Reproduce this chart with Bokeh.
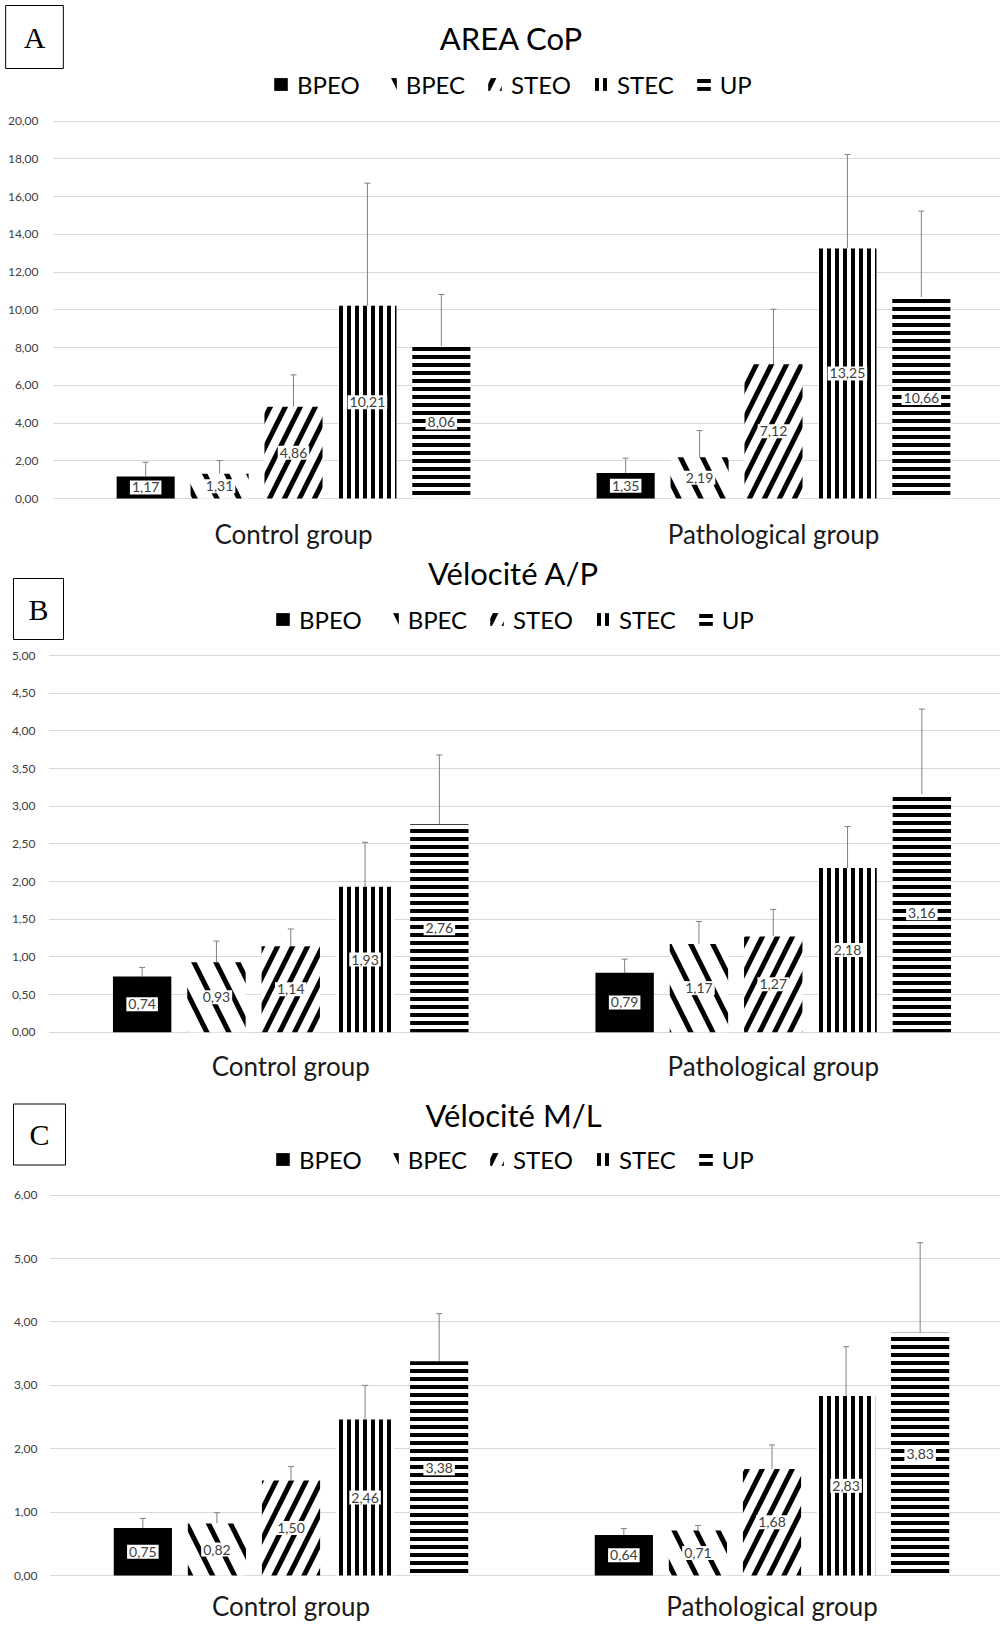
from bokeh.plotting import figure
from bokeh.models import (ColumnDataSource, Range1d, FixedTicker, Whisker, TeeHead,
                          Label, Legend, LegendItem, BoxAnnotation)
from bokeh.layouts import column
from bokeh.embed import file_html
from bokeh.resources import INLINE
from bokeh.core.properties import value

# ---------------- data ----------------
groups = ["Control group", "Pathological group"]
conditions = ["BPEO", "BPEC", "STEO", "STEC", "UP"]

area_control = [1.17, 1.31, 4.86, 10.21, 8.06]
area_patho = [1.35, 2.19, 7.12, 13.25, 10.66]
area_control_sd = [0.75, 0.70, 1.69, 6.50, 2.75]
area_patho_sd = [0.79, 1.41, 2.91, 4.98, 4.57]
area_ticks = [0.0, 2.0, 4.0, 6.0, 8.0, 10.0, 12.0, 14.0, 16.0, 18.0, 20.0]

vap_control = [0.74, 0.93, 1.14, 1.93, 2.76]
vap_patho = [0.79, 1.17, 1.27, 2.18, 3.16]
vap_control_sd = [0.12, 0.28, 0.23, 0.59, 0.92]
vap_patho_sd = [0.18, 0.30, 0.36, 0.55, 1.13]
vap_ticks = [0.0, 0.5, 1.0, 1.5, 2.0, 2.5, 3.0, 3.5, 4.0, 4.5, 5.0]

vml_control = [0.75, 0.82, 1.50, 2.46, 3.38]
vml_patho = [0.64, 0.71, 1.68, 2.83, 3.83]
vml_control_sd = [0.15, 0.17, 0.22, 0.54, 0.75]
vml_patho_sd = [0.10, 0.08, 0.38, 0.78, 1.42]
vml_ticks = [0.0, 1.0, 2.0, 3.0, 4.0, 5.0, 6.0]

# ---------------- styles ----------------
FONT = "Lato"
STYLES = {
    "BPEO": dict(fill_color="black"),
    "BPEC": dict(fill_color="white", hatch_pattern="left_diagonal_line",
                 hatch_color="black", hatch_scale=44, hatch_weight=5),
    "STEO": dict(fill_color="white", hatch_pattern="right_diagonal_line",
                 hatch_color="black", hatch_scale=30, hatch_weight=5),
    "STEC": dict(fill_color="white", hatch_pattern="vertical_line",
                 hatch_color="black", hatch_scale=8, hatch_weight=4),
    "UP": dict(fill_color="white", hatch_pattern="horizontal_line",
               hatch_color="black", hatch_scale=8, hatch_weight=4),
}
OFFSET = 0.154
BAR_W = 0.121
FIG_W = 1000


def fmt(v):
    return f"{v:.2f}".replace(".", ",")


def panel(title, letter, ctrl, patho, ctrl_sd, patho_sd, ticks, g):
    fig_top, fig_h = g["top"], g["height"]
    gl, zero, ppu, upx = g["grid_left"], g["zero"], g["ppu"], g["upx"]
    frame_bottom = fig_top + fig_h - g["bottom_border"]

    def X(px):  # page pixel -> data x
        return -0.5 + (px - gl) / upx

    def Y(py):  # page pixel -> data y
        return (zero - py) / ppu

    p = figure(width=FIG_W, height=fig_h,
               x_range=Range1d(X(0), X(FIG_W)),
               y_range=Range1d(Y(frame_bottom), Y(fig_top)),
               output_backend="svg", toolbar_location=None,
               min_border_left=0, min_border_right=0,
               min_border_top=0, min_border_bottom=g["bottom_border"])
    p.outline_line_color = None
    p.background_fill_color = "white"
    p.xgrid.grid_line_color = None
    p.ygrid.grid_line_color = "#d9d9d9"
    p.ygrid.grid_line_width = 1

    # y axis sits at the left end of the gridlines
    p.yaxis.fixed_location = X(gl)
    p.yaxis.ticker = FixedTicker(ticks=ticks)
    p.yaxis.major_label_overrides = {t: fmt(t) for t in ticks}
    p.yaxis.axis_line_color = None
    p.yaxis.major_tick_line_color = None
    p.yaxis.minor_tick_line_color = None
    p.yaxis.major_tick_out = 0
    p.yaxis.major_tick_in = 0
    p.yaxis.minor_tick_out = 0
    p.yaxis.major_label_standoff = g["ylab_standoff"]
    p.yaxis.major_label_text_font = FONT
    p.yaxis.major_label_text_font_size = "12px"
    p.yaxis.major_label_text_color = "#404040"
    # keep the gridlines from running under the tick labels
    p.add_layout(BoxAnnotation(left=X(0), right=X(gl - 0.5), fill_color="white",
                               fill_alpha=1, line_color=None, level="underlay"))

    p.xaxis.ticker = FixedTicker(ticks=[0, 1])
    p.xaxis.major_label_overrides = {i: gname for i, gname in enumerate(groups)}
    p.xaxis.axis_line_color = None
    p.xaxis.major_tick_line_color = None
    p.xaxis.minor_tick_line_color = None
    p.xaxis.major_tick_out = 0
    p.xaxis.major_tick_in = 0
    p.xaxis.minor_tick_out = 0
    p.xaxis.major_label_standoff = g["xlab_standoff"]
    p.xaxis.major_label_text_font = FONT
    p.xaxis.major_label_text_font_size = "26px"
    p.xaxis.major_label_text_color = "#1a1a1a"

    items = []
    for k, cond in enumerate(conditions):
        off = (k - 2) * OFFSET
        xs = [i + off for i in range(len(groups))]
        tops = [ctrl[k], patho[k]]
        sds = [ctrl_sd[k], patho_sd[k]]
        src = ColumnDataSource(dict(
            x=xs, top=tops, upper=[t + s for t, s in zip(tops, sds)],
            mid=[t / 2 for t in tops], lbl=[fmt(t) for t in tops]))
        r = p.vbar(x="x", top="top", bottom=0, width=BAR_W, source=src,
                   line_color=None, **STYLES[cond])
        items.append(LegendItem(label=cond, renderers=[r]))
        p.add_layout(Whisker(base="x", lower="top", upper="upper", source=src,
                             dimension="height", line_color="#808080", line_width=1,
                             upper_head=TeeHead(size=6, line_color="#808080", line_width=1),
                             lower_head=None))
        p.text(x="x", y="mid", text="lbl", source=src, text_align="center",
               text_baseline="middle", text_font=value(FONT), text_font_size="14px",
               text_color="#404040", background_fill_color="white", padding=2)

    # title
    tx, ty = g["title_xy"]
    p.add_layout(Label(x=X(tx), y=Y(ty), text=title, text_align="center",
                       text_baseline="middle", text_font=FONT,
                       text_font_size="31px", text_color="black"))

    # panel letter in a box
    bx, by, bw, bh = g["box"]
    tw, th = 21, 33
    p.add_layout(Label(x=X(bx), y=Y(by), text=letter, text_align="center",
                       text_baseline="middle", text_font="Liberation Serif",
                       text_font_size="30px", text_color="black",
                       border_line_color="black", border_line_width=1,
                       background_fill_color="white",
                       padding=(int((bw - tw) / 2), int((bh - th) / 2))))

    # legend
    leg_h = 27
    leg = Legend(items=items, orientation="horizontal",
                 location=(g["legend_left"], frame_bottom - (g["legend_cy"] + leg_h / 2)),
                 glyph_width=17, glyph_height=16, label_standoff=8, spacing=21,
                 padding=0, margin=0, border_line_color=None,
                 background_fill_alpha=0, label_text_font=FONT,
                 label_text_font_size="24px", label_text_color="black")
    p.add_layout(leg)
    return p


GEOM_A = dict(top=0, height=554, bottom_border=48, grid_left=53, zero=498.0,
              ppu=18.87, upx=480.0, ylab_standoff=15, xlab_standoff=11,
              title_xy=(511, 37), box=(34, 36.5, 58, 63), legend_left=272, legend_cy=85)
GEOM_B = dict(top=554, height=532, bottom_border=47, grid_left=49, zero=1031.7,
              ppu=75.33, upx=482.5, ylab_standoff=14, xlab_standoff=10,
              title_xy=(513, 572), box=(38, 608.5, 52, 61), legend_left=274, legend_cy=620)
GEOM_C = dict(top=1086, height=539, bottom_border=43, grid_left=50, zero=1575.0,
              ppu=63.39, upx=481.0, ylab_standoff=13, xlab_standoff=7,
              title_xy=(513, 1114), box=(39, 1134, 54, 62), legend_left=274, legend_cy=1160)

pA = panel("AREA CoP", "A", area_control, area_patho, area_control_sd, area_patho_sd,
           area_ticks, GEOM_A)
pB = panel("Vélocité A/P", "B", vap_control, vap_patho, vap_control_sd, vap_patho_sd,
           vap_ticks, GEOM_B)
pC = panel("Vélocité M/L", "C", vml_control, vml_patho, vml_control_sd, vml_patho_sd,
           vml_ticks, GEOM_C)

layout = column(pA, pB, pC, spacing=0)
open("out.html", "w").write(file_html(layout, INLINE))
